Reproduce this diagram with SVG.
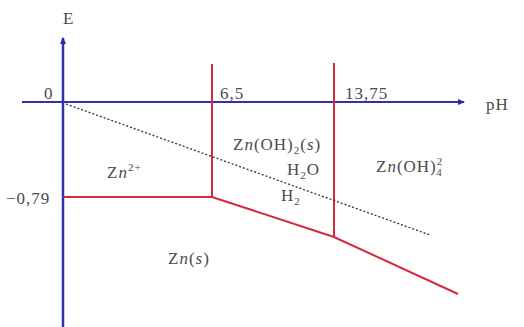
<svg xmlns="http://www.w3.org/2000/svg" width="524" height="327" viewBox="0 0 524 327">
<defs>
<marker id="arr" markerWidth="8" markerHeight="8" refX="6" refY="4" orient="auto" markerUnits="userSpaceOnUse">
<path d="M0,1 L7,4 L0,7 Z" fill="#2a2aa8"/>
</marker>
<style>
.t{font-family:"Liberation Serif","DejaVu Serif",serif;font-size:17px;letter-spacing:1px;fill:#4a4a4a}
.ax{stroke:#3030b0;stroke-width:2.5;fill:none}
.rd{stroke:#d8283c;stroke-width:2;fill:none}
.dt{stroke:#333;stroke-width:1.3;stroke-dasharray:2,2;fill:none}
.s{font-size:11px}
</style>
</defs>
<rect width="524" height="327" fill="#fff"/>
<g id="connectors">
<line class="ax" x1="63" y1="327" x2="63" y2="38" marker-end="url(#arr)"/>
<line class="ax" x1="22" y1="102" x2="464" y2="102" style="stroke-width:2" marker-end="url(#arr)"/>
<line class="rd" x1="212" y1="64" x2="212" y2="197"/>
<line class="rd" x1="334" y1="63" x2="334" y2="237"/>
<polyline class="rd" points="63,197 212,197 334,237 458,294"/>
<line class="dt" x1="66" y1="104" x2="430" y2="235"/>
</g>
<g id="labels">
<text class="t" x="63" y="24">E</text>
<text class="t" x="486" y="110">pH</text>
<text class="t" x="44" y="99">0</text>
<text class="t" x="220" y="99">6,5</text>
<text class="t" x="345" y="99">13,75</text>
<text class="t" x="6" y="204">−0,79</text>
</g>
<g id="Zn2"><text class="t" x="107" y="178">Z<tspan font-style="italic">n</tspan><tspan class="s" dy="-7">2+</tspan></text></g>
<g id="Zns"><text class="t" x="168" y="264">Z<tspan font-style="italic">n</tspan>(<tspan font-style="italic">s</tspan>)</text></g>
<g id="ZnOH2"><text class="t" x="233" y="150">Z<tspan font-style="italic">n</tspan>(OH)<tspan class="s" dy="4">2</tspan><tspan dy="-4">(</tspan><tspan font-style="italic">s</tspan>)</text></g>
<g id="H2O"><text class="t" x="287" y="175">H<tspan class="s" dy="4">2</tspan><tspan dy="-4">O</tspan></text></g>
<g id="H2"><text class="t" x="281" y="201">H<tspan class="s" dy="4">2</tspan></text></g>
<g id="ZnOH4"><text class="t" x="376" y="172">Z<tspan font-style="italic">n</tspan>(OH)<tspan class="s" font-size="10" dy="-7">2</tspan><tspan class="s" font-size="10" dx="-7" dy="11">4</tspan></text></g>
</svg>
